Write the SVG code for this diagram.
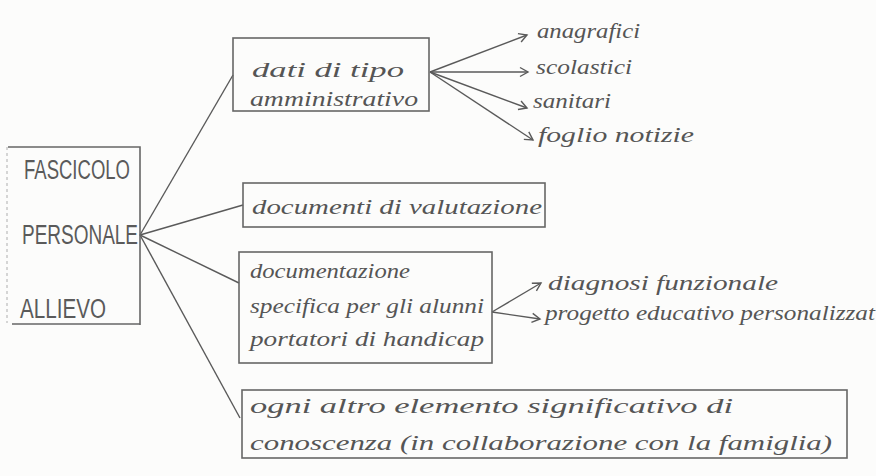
<svg xmlns="http://www.w3.org/2000/svg" width="876" height="476" viewBox="0 0 876 476">
<style>
.bg{fill:#fcfcfb}
.box{fill:none;stroke:#666;stroke-width:1.6}
.faint{fill:none;stroke:#bbb;stroke-width:1.2;stroke-dasharray:3 3}
.t{font-family:"Liberation Serif",serif;font-style:italic;font-size:21px;fill:#555}
.cap{font-family:"Liberation Sans",sans-serif;font-size:27px;fill:#5a5a5a}
.c{fill:none;stroke:#5a5a5a;stroke-width:1.4}
</style>
<defs>
<marker id="ah" markerWidth="12" markerHeight="12" refX="10" refY="6" orient="auto" markerUnits="userSpaceOnUse">
<path d="M2,1.5 L10,6 L2,10.5" fill="none" stroke="#5a5a5a" stroke-width="1.4"/>
</marker>
</defs>
<rect class="bg" x="0" y="0" width="876" height="476"/>
<g id="connectors">
<line class="c" x1="140" y1="235" x2="233" y2="75"/>
<line class="c" x1="140" y1="235" x2="243" y2="205"/>
<line class="c" x1="140" y1="235" x2="239" y2="283"/>
<line class="c" x1="140" y1="235" x2="240" y2="418"/>
<line class="c" x1="430" y1="72" x2="527" y2="35" marker-end="url(#ah)"/>
<line class="c" x1="430" y1="72" x2="528" y2="72" marker-end="url(#ah)"/>
<line class="c" x1="430" y1="72" x2="527" y2="108" marker-end="url(#ah)"/>
<line class="c" x1="430" y1="72" x2="533" y2="140" marker-end="url(#ah)"/>
<line class="c" x1="492" y1="312" x2="541" y2="283" marker-end="url(#ah)"/>
<line class="c" x1="492" y1="312" x2="540" y2="319" marker-end="url(#ah)"/>
</g>
<g id="fascicolo">
<line class="faint" x1="7" y1="147" x2="7" y2="323"/>
<polyline class="box" points="8,147 140,147 140,325"/>
<line class="box" x1="12" y1="324" x2="140" y2="324"/>
<text class="cap" x="24" y="179" textLength="106" lengthAdjust="spacingAndGlyphs">FASCICOLO</text>
<text class="cap" x="22" y="244" textLength="116" lengthAdjust="spacingAndGlyphs">PERSONALE</text>
<text class="cap" x="20" y="318" textLength="86" lengthAdjust="spacingAndGlyphs">ALLIEVO</text>
</g>
<g id="amministrativo">
<rect class="box" x="233" y="38" width="196" height="73"/>
<text class="t" x="252" y="77" textLength="152" lengthAdjust="spacingAndGlyphs">dati di tipo</text>
<text class="t" x="250" y="106" textLength="168" lengthAdjust="spacingAndGlyphs">amministrativo</text>
</g>
<g id="anagrafici"><text class="t" x="537" y="38" textLength="103" lengthAdjust="spacingAndGlyphs">anagrafici</text></g>
<g id="scolastici"><text class="t" x="536" y="74" textLength="96" lengthAdjust="spacingAndGlyphs">scolastici</text></g>
<g id="sanitari"><text class="t" x="533" y="108" textLength="78" lengthAdjust="spacingAndGlyphs">sanitari</text></g>
<g id="foglio"><text class="t" x="538" y="142" textLength="156" lengthAdjust="spacingAndGlyphs">foglio notizie</text></g>
<g id="valutazione">
<rect class="box" x="243" y="183" width="302" height="44"/>
<text class="t" x="252" y="214" textLength="290" lengthAdjust="spacingAndGlyphs">documenti di valutazione</text>
</g>
<g id="handicap">
<rect class="box" x="239" y="252" width="253" height="111"/>
<text class="t" x="250" y="278" textLength="160" lengthAdjust="spacingAndGlyphs">documentazione</text>
<text class="t" x="250" y="313" textLength="234" lengthAdjust="spacingAndGlyphs">specifica per gli alunni</text>
<text class="t" x="250" y="346" textLength="234" lengthAdjust="spacingAndGlyphs">portatori di handicap</text>
</g>
<g id="diagnosi"><text class="t" x="548" y="290" textLength="230" lengthAdjust="spacingAndGlyphs">diagnosi funzionale</text></g>
<g id="progetto"><text class="t" x="545" y="320" textLength="330" lengthAdjust="spacingAndGlyphs">progetto educativo personalizzat</text></g>
<g id="altro">
<rect class="box" x="242" y="390" width="605" height="68"/>
<text class="t" x="250" y="413" textLength="483" lengthAdjust="spacingAndGlyphs">ogni altro elemento significativo di</text>
<text class="t" x="250" y="450" textLength="582" lengthAdjust="spacingAndGlyphs">conoscenza (in collaborazione con la famiglia)</text>
</g>
</svg>
